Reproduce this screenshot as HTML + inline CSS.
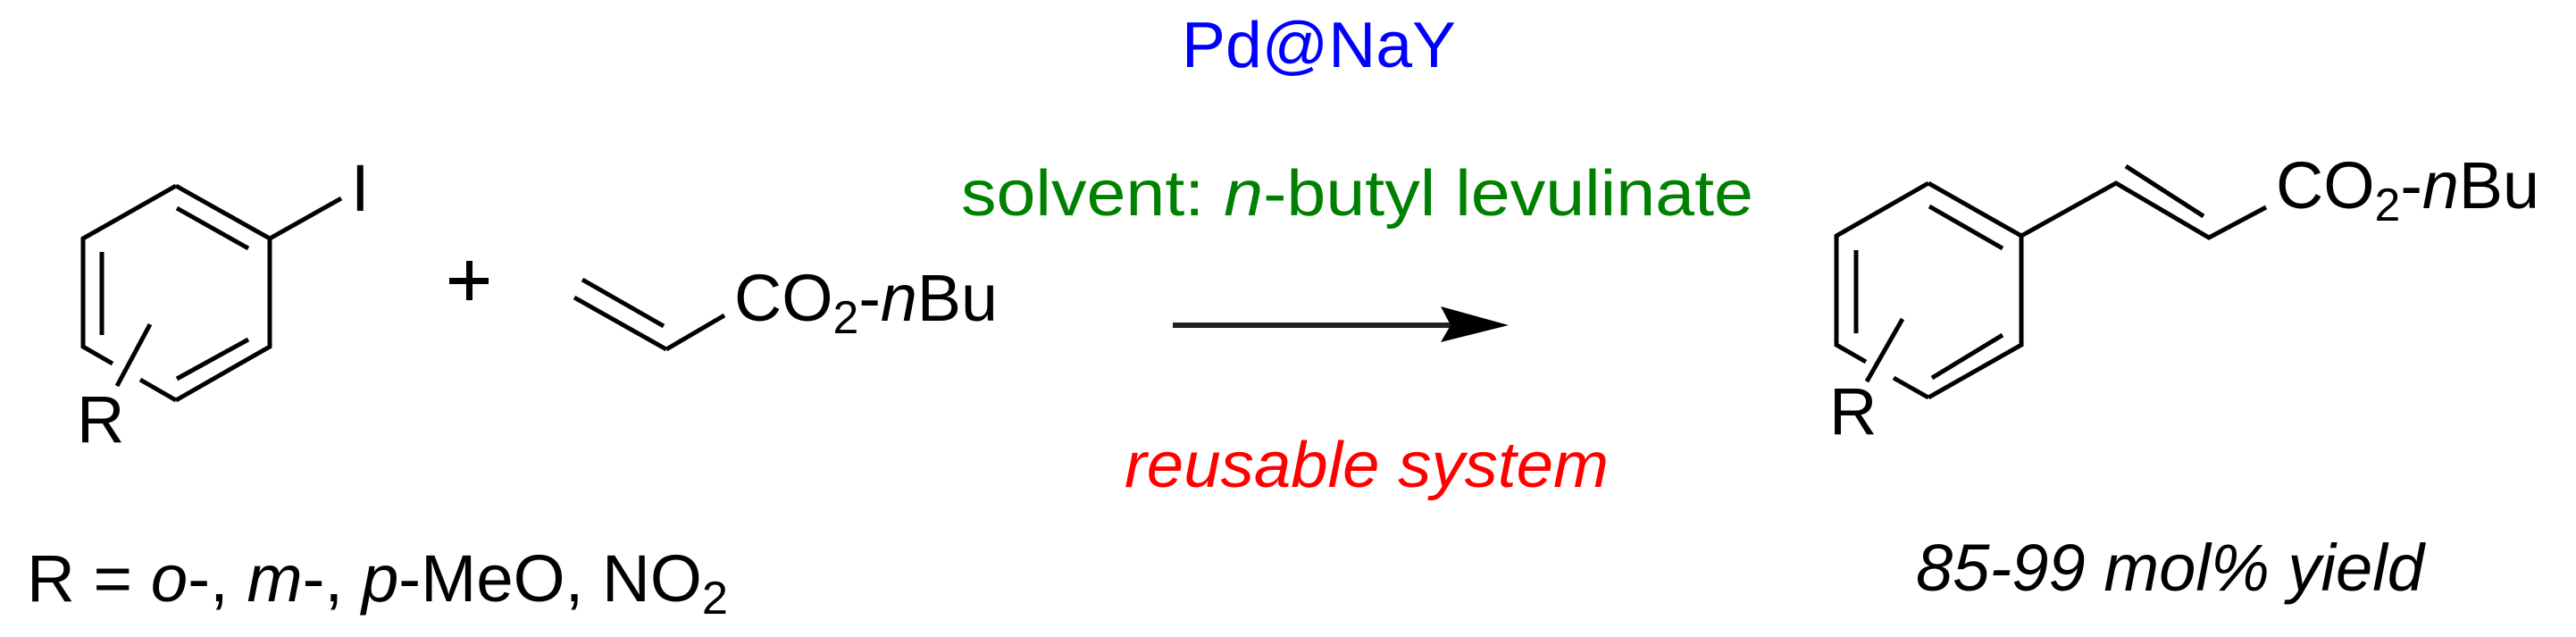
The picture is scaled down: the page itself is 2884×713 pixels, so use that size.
<!DOCTYPE html>
<html><head><meta charset="utf-8"><style>
html,body{margin:0;padding:0;background:#fff;}
svg{display:block;}
text{font-family:"Liberation Sans",Arial,sans-serif;}
</style></head><body>
<svg width="2884" height="713" viewBox="0 0 2884 713" xmlns="http://www.w3.org/2000/svg">
<g stroke="#000" stroke-width="5" fill="none" stroke-linecap="butt">
<polyline points="197,208 302,267 302,388 197,448"/>
<polyline points="197,208 93,267 93,388 126,407"/>
<line x1="157" y1="425" x2="197" y2="448"/>
<line x1="198" y1="233" x2="278" y2="278"/>
<line x1="114" y1="282" x2="114" y2="375"/>
<line x1="198" y1="424" x2="278" y2="380"/>
<line x1="168" y1="363" x2="131" y2="432"/>
<line x1="302" y1="267" x2="382" y2="222"/>
<line x1="652" y1="313" x2="743" y2="365"/>
<line x1="643" y1="333" x2="746" y2="391"/>
<line x1="746" y1="391" x2="811" y2="353"/>
<polyline points="2159,205 2263,264 2263,386 2159,445"/>
<polyline points="2159,205 2056,264 2056,386 2089,405"/>
<line x1="2120" y1="423" x2="2159" y2="445"/>
<line x1="2160" y1="231" x2="2242" y2="278"/>
<line x1="2078" y1="280" x2="2078" y2="373"/>
<line x1="2163" y1="423" x2="2242" y2="375"/>
<line x1="2130" y1="357" x2="2090" y2="427"/>
<polyline points="2263,264 2369,205 2473,266 2537,232"/>
<line x1="2380" y1="186" x2="2467" y2="242"/>
<line x1="1313" y1="364" x2="1630" y2="364" stroke="#222" stroke-width="6"/>
</g>
<polygon points="1613,343 1689,364 1613,383 1624,364" fill="#000"/>
<rect x="503" y="311" width="44" height="7" fill="#000"/>
<rect x="522" y="292" width="7" height="44" fill="#000"/>
<g font-size="74" fill="#000">
<text x="393" y="236">I</text>
<text x="86" y="495">R</text>
<text x="2048" y="486">R</text>
<text x="822" y="359" textLength="295" lengthAdjust="spacingAndGlyphs">CO<tspan font-size="52" dy="14">2</tspan><tspan dy="-14">-</tspan><tspan font-style="italic">n</tspan>Bu</text>
<text x="2548" y="233" textLength="295" lengthAdjust="spacingAndGlyphs">CO<tspan font-size="52" dy="14">2</tspan><tspan dy="-14">-</tspan><tspan font-style="italic">n</tspan>Bu</text>
<text x="30" y="673" textLength="785" lengthAdjust="spacingAndGlyphs">R = <tspan font-style="italic">o</tspan>-, <tspan font-style="italic">m</tspan>-, <tspan font-style="italic">p</tspan>-MeO, NO<tspan font-size="52" dy="14">2</tspan></text>
<text x="2145" y="661" font-style="italic" textLength="569" lengthAdjust="spacingAndGlyphs">85-99 mol% yield</text>
</g>
<text x="1323" y="75" font-size="72" fill="#0000ff" textLength="307" lengthAdjust="spacingAndGlyphs">Pd@NaY</text>
<text x="1076" y="241" font-size="72" fill="#008000" textLength="887" lengthAdjust="spacingAndGlyphs">solvent: <tspan font-style="italic">n</tspan>-butyl levulinate</text>
<text x="1259" y="545" font-size="72" fill="#ff0000" font-style="italic" textLength="542" lengthAdjust="spacingAndGlyphs">reusable system</text>
</svg>
</body></html>
